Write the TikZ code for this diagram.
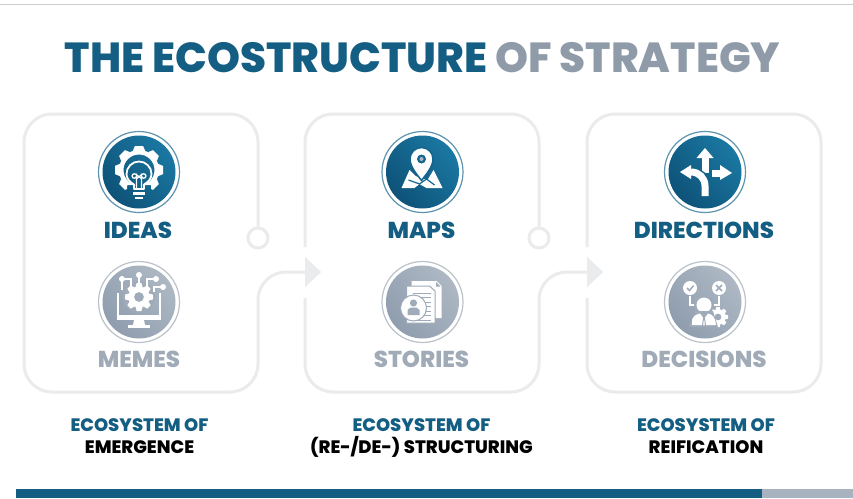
\documentclass[tikz,border=0pt]{standalone}
\usepackage{fontspec}
\setmainfont{Poppins}[BoldFont = {Poppins ExtraBold}]
\usetikzlibrary{shapes.geometric}
\definecolor{titleBlue}{HTML}{135E82}
\definecolor{titleGray}{HTML}{8F9BA8}
\definecolor{labelGray}{HTML}{A0ABB7}
\definecolor{panelGray}{HTML}{EAEBEC}
\definecolor{blueDark}{HTML}{0E5278}
\definecolor{blueLight}{HTML}{1A78A2}
\definecolor{blueRing}{HTML}{5E94AF}
\definecolor{grayDark}{HTML}{8F9DAE}
\definecolor{grayLight}{HTML}{AEB8C4}
\definecolor{grayRing}{HTML}{BCC2CA}
\definecolor{barGray}{HTML}{A9B3C0}
\tikzset{
	panelLine/.style = {draw = panelGray, line width = 3pt, rounded corners = 28pt},
	joinDot/.style = {circle, draw = panelGray, line width = 3pt, fill = white, minimum size = 20pt, inner sep = 0pt},
	joinArrow/.style = {isosceles triangle, isosceles triangle stretches, fill = panelGray, minimum height = 16pt, minimum width = 30pt, inner sep = 0pt, anchor = lower side},
	wordNode/.style = {anchor = base, inner sep = 0pt, font = \bfseries\fontsize{23}{23}\selectfont},
	footNode/.style = {anchor = base, inner sep = 0pt, font = \bfseries\fontsize{18}{18}\selectfont}
}
\newcommand{\iconDisc}[6]{
	\node[circle, draw = #4, line width = 1.2pt, fill = white, minimum size = 81pt, inner sep = 0pt] at (#2, #3) {};
	\node[circle, left color = #5, right color = #6, shading angle = 130, minimum size = 73pt, inner sep = 0pt] (#1) at (#2, #3) {};
	\colorlet{iconBack}{#5!50!#6}
}
\newcommand{\gearShape}[5]{
	\begin{scope}[shift = {(#1, #2)}]
		\foreach \a in {0, 45, ..., 315} {
			\fill[white, rotate = \a] (-0.26 * #3, #4 - 1) -- (-0.17 * #3, #3) -- (0.17 * #3, #3) -- (0.26 * #3, #4 - 1) -- cycle;
		}
		\fill[white, even odd rule] (0, 0) circle[radius = #4] (0, 0) circle[radius = #5];
	\end{scope}
}
\begin{document}
\begin{tikzpicture}[x = 1pt, y = -1pt]
	\useasboundingbox (0, 0) rectangle (853, 498);
	\fill[white] (0, 0) rectangle (853, 498);

	% top rule and bottom bar
	\fill[black!20] (0, 3.5) rectangle (853, 4.5);
	\fill[titleBlue] (16, 489) rectangle (762, 498);
	\fill[barGray] (762, 489) rectangle (853, 498);

	% title
	\node[anchor = base, inner sep = 0pt, font = \bfseries\fontsize{42}{42}\selectfont] (title) at (422.5, 72) {\textcolor{titleBlue}{THE ECOSTRUCTURE} \textcolor{titleGray}{OF STRATEGY}};

	% joints
	\node[joinDot] (dotA) at (258, 238) {};
	\node[joinDot] (dotB) at (539, 238) {};
	\node[joinArrow] (arrowA) at (305, 272) {};
	\node[joinArrow] (arrowB) at (587, 272) {};
	\coordinate (gapTopB) at (305, 247);
	\coordinate (gapLowB) at (305, 298);
	\coordinate (gapTopC) at (587, 247);
	\coordinate (gapLowC) at (587, 298);

	% panels
	\draw[panelLine] (dotA.north) -- (258, 114) -- (24, 114) -- (24, 392) -- (258, 392) -- (258, 272) -- (arrowA.lower side);
	\draw[panelLine] (gapTopB) -- (305, 114) -- (539, 114) -- (dotB.north);
	\draw[panelLine] (gapLowB) -- (305, 392) -- (539, 392) -- (539, 272) -- (arrowB.lower side);
	\draw[panelLine] (gapTopC) -- (587, 114) -- (821, 114) -- (821, 392) -- (587, 392) -- (gapLowC);

	% ideas
	\iconDisc{ideasDisc}{139}{172}{blueRing}{blueDark}{blueLight}
	\begin{scope}[shift = {(ideasDisc.center)}]
		\begin{scope}
			\clip (-30, -30) -- (30, -30) -- (30, 30) -- (12, 30) -- (12, 13) -- (-12, 13) -- (-12, 30) -- (-30, 30) -- cycle;
			\gearShape{0}{-2}{24}{20}{15.5}
		\end{scope}
		\draw[white, line width = 1.8pt, line join = round] (-5, 17) -- (-5, 12.5) .. controls (-9, 10) and (-12.5, 7) .. (-12.5, 2) arc[start angle = 180, end angle = 360, radius = 12.5] .. controls (12.5, 7) and (9, 10) .. (5, 12.5) -- (5, 17) -- cycle;
		\fill[white] (-6, 20) rectangle (6, 22.5);
		\fill[white] (-4, 25) rectangle (4, 27);
		\draw[white, line width = 1.3pt] (-2.5, 17) -- (-2.5, 4) arc[start angle = 0, end angle = 300, radius = 2.2] -- (2.5, 6.5);
		\draw[white, line width = 1.3pt] (2.5, 17) -- (2.5, 4) arc[start angle = 180, end angle = -120, radius = 2.2] -- (-2.5, 6.5);
	\end{scope}

	% memes
	\iconDisc{memesDisc}{139}{302}{grayRing}{grayDark}{grayLight}
	\begin{scope}[shift = {(memesDisc.center)}]
		\draw[white, line width = 1.6pt] (-21, -9) -- (-21, 17) -- (21, 17) -- (21, -9);
		\fill[white] (-22, 13) rectangle (22, 18);
		\fill[white] (-5, 18) -- (5, 18) -- (6, 23) -- (-6, 23) -- cycle;
		\fill[white] (-11, 23) rectangle (11, 25.5);
		\fill[iconBack] (0, -5) circle[radius = 16];
		\gearShape{0}{-5}{14}{10.5}{5}
		\draw[white, line width = 1.3pt] (0, -27) -- (0, -19);
		\draw[white, line width = 1.3pt] (-17, -23) -- (-8, -23) -- (-8, -16);
		\draw[white, line width = 1.3pt] (-17, -23) -- (-17, -12);
		\draw[white, line width = 1.3pt] (17, -23) -- (8, -23) -- (8, -16);
		\draw[white, line width = 1.3pt] (24, -15) -- (15, -15) -- (15, -10);
		\fill[white] (0, -27) circle[radius = 3];
		\fill[white] (-17, -23) circle[radius = 3];
		\fill[white] (17, -23) circle[radius = 3];
		\fill[white] (24, -15) circle[radius = 3];
	\end{scope}

	% maps
	\iconDisc{mapsDisc}{422.5}{172}{blueRing}{blueDark}{blueLight}
	\begin{scope}[shift = {(mapsDisc.center)}]
		\fill[white] (-13, -2) -- (-7, 4) -- (5, 8) -- (11, -2) -- (20, 16) -- (4, 16) -- (-3, 12) -- (-8, 16) -- (-21, 16) -- cycle;
		\draw[iconBack, line width = 1.2pt] (-14, 8) -- (-3, 12) -- (4, 7) -- (12, 13);
		\fill[white, draw = iconBack, line width = 1.5pt] (-1, 8.5) .. controls (-5, 3) and (-12.5, -5) .. (-12.5, -13) arc[start angle = 180, end angle = 360, radius = 11.5] .. controls (10.5, -5) and (3, 3) .. (-1, 8.5) -- cycle;
		\fill[iconBack] (-1, -13) circle[radius = 4.5];
		\fill[grayLight] (-1, -13) circle[radius = 2];
	\end{scope}

	% stories
	\iconDisc{storiesDisc}{422.5}{302}{grayRing}{grayDark}{grayLight}
	\begin{scope}[shift = {(storiesDisc.center)}]
		\fill[white] (-11, -21) -- (14, -21) -- (19, -16) -- (19, 16) -- (-11, 16) -- cycle;
		\fill[iconBack] (13.5, -20) -- (13.5, -15.5) -- (18, -15.5) -- cycle;
		\fill[white, draw = iconBack, line width = 1pt] (-16, -16) -- (7, -16) -- (12.5, -11) -- (12.5, 21) -- (-16, 21) -- cycle;
		\foreach \y in {-9, -4.5, ..., 18} {
			\draw[iconBack, line width = 0.8pt] (-10, \y) -- (8, \y);
		}
		\fill[white, draw = iconBack, line width = 1pt] (-9, 6) circle[radius = 13];
		\fill[iconBack] (-9, 1) circle[radius = 3.6];
		\fill[iconBack] (-15, 13) -- (-15, 8) -- (-12, 5.5) -- (-6, 5.5) -- (-3, 8) -- (-3, 13) -- cycle;
	\end{scope}

	% directions
	\iconDisc{directionsDisc}{705}{172}{blueRing}{blueDark}{blueLight}
	\begin{scope}[shift = {(directionsDisc.center)}]
		\fill[white] (-3.5, -14) rectangle (3.5, 1);
		\fill[white] (-8.5, -14) -- (0, -24) -- (8.5, -14) -- cycle;
		\fill[white] (7, -2.5) rectangle (16, 4.5);
		\fill[white] (15, -7) -- (27, 1) -- (15, 8) -- cycle;
		\draw[iconBack, line width = 8pt] (-14, 0) .. controls (-4, 0) and (2, 6) .. (2, 14);
		\draw[white, line width = 7pt] (-14, 0) .. controls (-6, 0) and (0, 6) .. (0, 14) -- (0, 24);
		\fill[white] (-14, -7) -- (-14, 7) -- (-25, 0) -- cycle;
	\end{scope}

	% decisions
	\iconDisc{decisionsDisc}{705}{302}{grayRing}{grayDark}{grayLight}
	\begin{scope}[shift = {(decisionsDisc.center)}]
		\fill[white] (-15, -14) circle[radius = 7];
		\fill[white] (14, -14) circle[radius = 7];
		\draw[iconBack, line width = 1.5pt] (-18, -14) -- (-15.5, -11.5) -- (-11.5, -16.5);
		\draw[iconBack, line width = 1.5pt] (11, -17) -- (17, -11) (17, -17) -- (11, -11);
		\draw[white, line width = 1.2pt] (-15, -6) -- (-15, 3) -- (-8, 3);
		\draw[white, line width = 1.2pt] (14, -6) -- (14, 3) -- (7, 3);
		\gearShape{13}{15}{10}{7.5}{3.5}
		\fill[iconBack] (-1, 3) circle[radius = 10];
		\fill[white] (-1, 3) circle[radius = 7.5];
		\fill[iconBack] (-16, 25) -- (-10, 9) -- (8, 9) -- (13, 25) -- cycle;
		\fill[white] (-13, 23) -- (-13, 18) .. controls (-12, 14) and (-9, 12.5) .. (-5, 11.5) -- (-1, 17) -- (3, 11.5) .. controls (7, 12.5) and (10, 14) .. (11, 23) -- cycle;
		\draw[iconBack, line width = 1pt] (-1, 13) -- (-2.5, 23) (-1, 13) -- (0.5, 23);
	\end{scope}

	% words
	\node[wordNode, titleBlue] (ideasText) at (138, 238) {IDEAS};
	\node[wordNode, titleBlue] (mapsText) at (421.5, 238) {MAPS};
	\node[wordNode, titleBlue] (directionsText) at (704, 238) {DIRECTIONS};
	\node[wordNode, labelGray] (memesText) at (139, 367) {MEMES};
	\node[wordNode, labelGray] (storiesText) at (421.5, 367) {STORIES};
	\node[wordNode, labelGray] (decisionsText) at (704, 367) {DECISIONS};

	% ecosystems
	\node[footNode, titleBlue] (ecoA) at (139.5, 431) {ECOSYSTEM OF};
	\node[footNode, titleBlue] (ecoB) at (421.5, 431) {ECOSYSTEM OF};
	\node[footNode, titleBlue] (ecoC) at (706, 431) {ECOSYSTEM OF};
	\node[footNode, black] (nameA) at (139.5, 453) {EMERGENCE};
	\node[footNode, black] (nameB) at (421.5, 453) {(RE-/DE-) STRUCTURING};
	\node[footNode, black] (nameC) at (706, 453) {REIFICATION};
\end{tikzpicture}
\end{document}
